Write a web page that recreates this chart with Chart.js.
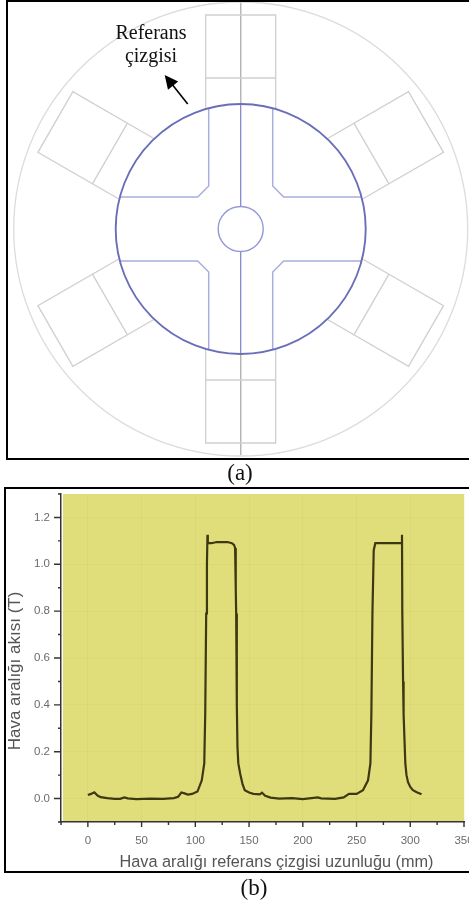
<!DOCTYPE html>
<html>
<head>
<meta charset="utf-8">
<script src="https://cdn.jsdelivr.net/npm/chart.js@4"></script>
<style>
  html, body { margin: 0; padding: 0; background: #fff; overflow: hidden; }
  #page { position: relative; width: 469px; height: 907px; font-family: "Liberation Serif", serif; color: #111; }
  canvas { position: absolute; left: 0; }
  #diagram { top: 0; filter: blur(0.35px); }
  #flux { top: 480px; filter: blur(0.55px); }
  .frame { position: absolute; border: solid #000; border-width: 2px 0 2px 2px; box-sizing: border-box; }
  .txt { position: absolute; text-align: center; font-size: 20px; line-height: 23px; }
</style>
</head>
<body>
<div id="page">
  <canvas id="diagram" width="469" height="480"></canvas>
  <canvas id="flux" width="469" height="427"></canvas>
  <div class="frame" style="left:6px;top:0;width:463px;height:460px"></div>
  <div class="frame" style="left:4px;top:487px;width:465px;height:386px"></div>
  <div class="txt" style="left:96px;top:21px;width:110px">Referans<br>çizgisi</div>
  <div class="txt" style="left:210px;top:461px;width:60px;font-size:23px">(a)</div>
  <div class="txt" style="left:224px;top:876px;width:60px;font-size:23px">(b)</div>
</div>
<script>
// air gap flux along the reference line
const positions = [0, 3, 6, 9, 12, 18, 25, 30, 34, 37, 45, 58, 70, 80, 84, 87, 90, 93, 97, 102, 106, 108.3, 109.2, 110.1, 110.8, 111.3, 111.6, 113, 115, 120, 125, 130, 134, 136, 137, 137.6, 138, 138.6, 139.2, 140, 141.7, 144, 146, 150, 154, 160, 162, 165, 170, 178, 190, 200, 214, 217, 230, 238, 243, 250, 256, 260.7, 262.9, 263.8, 264.8, 266, 267.5, 272, 280, 288, 292, 292.3, 292.6, 293.3, 293.8, 295.4, 296.5, 297.9, 300, 302.5, 306, 310.5];
const flux = [0.015, 0.02, 0.027, 0.013, 0.006, 0.002, -0.001, -0.001, 0.005, 0.001, -0.002, 0, -0.001, 0.002, 0.008, 0.026, 0.022, 0.017, 0.02, 0.03, 0.078, 0.15, 0.36, 0.79, 1.0, 1.126, 1.09, 1.09, 1.09, 1.095, 1.095, 1.095, 1.09, 1.083, 1.07, 0.9, 0.79, 0.4, 0.22, 0.15, 0.107, 0.06, 0.036, 0.026, 0.02, 0.018, 0.025, 0.012, 0.004, 0, 0.002, -0.002, 0.005, 0.001, -0.001, 0.005, 0.02, 0.02, 0.036, 0.078, 0.15, 0.36, 0.79, 1.06, 1.09, 1.09, 1.09, 1.09, 1.09, 1.126, 0.79, 0.5, 0.36, 0.15, 0.1, 0.07, 0.05, 0.036, 0.027, 0.018];
const xTitle = 'Hava aralığı referans çizgisi uzunluğu (mm)';
const yTitle = 'Hava aralığı akısı (T)';

// motor cross section, in units measured from the shaft centre
const statorRadius = 227;
const airgapRadius = 125;
const shaftRadius = 22.5;
const slotAngles = [0, 60, 120, 180, 240, 300];
const slotOutline = [[-35, -120], [-35, -214], [35, -214], [35, -120]];
const slotDivider = [[-35, -151], [35, -151]];
const rotorQuadrant = [[32, -121], [32, -43], [43, -32], [121, -32]];
const rotorAxis = [[0, -125], [0, -22.5]];
const lowerAxis = [[0, 22.5], [0, 125]];
const upperSlotAxis = [[0, -228], [0, -125]];
const lowerSlotAxis = [[0, 125], [0, 226]];
const arrowLine = [[-53, 125], [-76, 154]];

const spin = (pts, deg) => {
  const a = deg * Math.PI / 180;
  return pts.map(([x, y]) => ({ x: x * Math.cos(a) - y * Math.sin(a), y: -(x * Math.sin(a) + y * Math.cos(a)) }));
};
const mirror = (pts, sx, sy) => pts.map(([x, y]) => [x * sx, y * sy]);
const seg = (pts, color, w) => ({ data: pts, showLine: true, pointRadius: 0, borderColor: color, borderWidth: w, tension: 0 });

const grey = '#cfcfcf';
const blue = '#a9addf';
const diagramSets = [];
slotAngles.forEach(a => {
  diagramSets.push(seg(spin(slotOutline, a), grey, 1.3));
  diagramSets.push(seg(spin(slotDivider, a), grey, 1.3));
});
diagramSets.push(seg(spin(upperSlotAxis, 0), '#b5b5b5', 1));
diagramSets.push(seg(spin(lowerSlotAxis, 0), '#b5b5b5', 1));
[[1, 1], [-1, 1], [1, -1], [-1, -1]].forEach(([sx, sy]) => {
  diagramSets.push(seg(spin(mirror(rotorQuadrant, sx, sy), 0), blue, 1.5));
});
diagramSets.push(seg(spin(rotorAxis, 0), '#7c80cc', 1.2));
diagramSets.push(seg(spin(lowerAxis, 0), '#7c80cc', 1.2));

const circlesAndArrow = {
  id: 'circlesAndArrow',
  afterDatasetsDraw(chart) {
    const { ctx, scales: { x, y } } = chart;
    const ring = (r, color, w) => {
      ctx.beginPath();
      ctx.arc(x.getPixelForValue(0), y.getPixelForValue(0), x.getPixelForValue(r) - x.getPixelForValue(0), 0, Math.PI * 2);
      ctx.strokeStyle = color;
      ctx.lineWidth = w;
      ctx.stroke();
    };
    ctx.save();
    ring(statorRadius, '#dcdcdc', 1.3);
    ring(airgapRadius, '#6a6eb8', 1.9);
    ring(shaftRadius, '#9498d8', 1.4);
    // arrow pointing at the reference line
    const [from, to] = arrowLine.map(([px, py]) => [x.getPixelForValue(px), y.getPixelForValue(py)]);
    const ang = Math.atan2(to[1] - from[1], to[0] - from[0]);
    ctx.beginPath();
    ctx.moveTo(from[0], from[1]);
    ctx.lineTo(to[0] - 8 * Math.cos(ang), to[1] - 8 * Math.sin(ang));
    ctx.strokeStyle = '#000';
    ctx.lineWidth = 1.6;
    ctx.stroke();
    ctx.beginPath();
    ctx.moveTo(to[0], to[1]);
    ctx.lineTo(to[0] - 15 * Math.cos(ang - 0.45), to[1] - 15 * Math.sin(ang - 0.45));
    ctx.lineTo(to[0] - 15 * Math.cos(ang + 0.45), to[1] - 15 * Math.sin(ang + 0.45));
    ctx.closePath();
    ctx.fillStyle = '#000';
    ctx.fill();
    ctx.restore();
  }
};

new Chart(document.getElementById('diagram'), {
  type: 'scatter',
  data: { datasets: diagramSets },
  plugins: [circlesAndArrow],
  options: {
    responsive: false,
    animation: false,
    layout: { padding: 0 },
    plugins: { legend: { display: false }, tooltip: { enabled: false } },
    scales: {
      // one unit is one pixel, centre at (240.7, 229)
      x: { type: 'linear', display: false, min: -240.7, max: 228.3 },
      y: { type: 'linear', display: false, min: -251, max: 229 }
    }
  }
});

const plotBackground = {
  id: 'plotBackground',
  beforeDraw(chart) {
    const { ctx, chartArea: a } = chart;
    ctx.save();
    ctx.fillStyle = '#e0de7a';
    ctx.fillRect(a.left + 2, a.top, a.right - a.left - 2, a.bottom - a.top);
    ctx.restore();
  }
};

const axisTicks = {
  id: 'axisTicks',
  afterDraw(chart) {
    const { ctx, chartArea: a, scales: { x, y } } = chart;
    ctx.save();
    ctx.strokeStyle = '#333';
    ctx.lineWidth = 1.4;
    ctx.beginPath();
    x.ticks.forEach(t => {
      const px = x.getPixelForValue(t.value);
      ctx.moveTo(px, a.bottom);
      ctx.lineTo(px, a.bottom + (t.value % 50 === 0 ? 5 : 3));
    });
    y.ticks.forEach(t => {
      const py = y.getPixelForValue(t.value);
      const major = Math.round(t.value * 10) % 2 === 0;
      ctx.moveTo(a.left, py);
      ctx.lineTo(a.left - (major ? 7 : 3), py);
    });
    ctx.stroke();
    // axis titles sit off-centre in the original
    ctx.fillStyle = '#555';
    ctx.textAlign = 'center';
    ctx.textBaseline = 'middle';
    ctx.font = '16.3px "Liberation Sans"';
    ctx.fillText(xTitle, 276.5, 383);
    ctx.translate(15, 191);
    ctx.rotate(-Math.PI / 2);
    ctx.font = '17px "Liberation Sans"';
    ctx.fillText(yTitle, 0, 0);
    ctx.restore();
  }
};

const faintGrid = c => (c.tick && Math.round(c.tick.value * 10) % 2 === 0 ? 'rgba(180,180,70,0.12)' : 'rgba(0,0,0,0)');
const faintGridX = c => (c.tick && c.tick.value % 50 === 0 ? 'rgba(180,180,70,0.12)' : 'rgba(0,0,0,0)');

new Chart(document.getElementById('flux'), {
  type: 'line',
  data: {
    labels: positions,
    datasets: [{
      data: positions.map((p, i) => ({ x: p, y: flux[i] })),
      borderColor: '#3c3812',
      borderWidth: 2.2,
      pointRadius: 0,
      tension: 0,
      fill: false
    }]
  },
  plugins: [plotBackground, axisTicks],
  options: {
    responsive: false,
    animation: false,
    layout: { padding: { left: 5, right: 5, top: 14, bottom: 36 } },
    plugins: { legend: { display: false }, tooltip: { enabled: false } },
    scales: {
      x: {
        type: 'linear',
        min: -25,
        max: 350,
        afterFit(s) { s.height = 49; s.paddingLeft = 0; s.paddingRight = 0; },
        grid: { display: true, drawTicks: false, color: faintGridX },
        border: { color: '#333', width: 1.5 },
        ticks: {
          stepSize: 25,
          autoSkip: false,
          maxRotation: 0,
          padding: 12,
          color: '#6b6b6b',
          font: { family: 'Liberation Sans', size: 11.5 },
          callback: v => (v >= 0 && v % 50 === 0 ? String(v) : '')
        }
      },
      y: {
        type: 'linear',
        min: -0.1,
        max: 1.3,
        afterFit(s) { s.width = 56; s.paddingTop = 0; s.paddingBottom = 0; },
        grid: { display: true, drawTicks: false, color: faintGrid },
        border: { color: '#333', width: 1.5 },
        ticks: {
          stepSize: 0.1,
          autoSkip: false,
          padding: 11,
          color: '#6b6b6b',
          font: { family: 'Liberation Sans', size: 11.5 },
          callback: v => {
            const tenths = Math.round(v * 10);
            return tenths >= 0 && tenths % 2 === 0 ? (tenths / 10).toFixed(1) : '';
          }
        }
      }
    }
  }
});
</script>
</body>
</html>
